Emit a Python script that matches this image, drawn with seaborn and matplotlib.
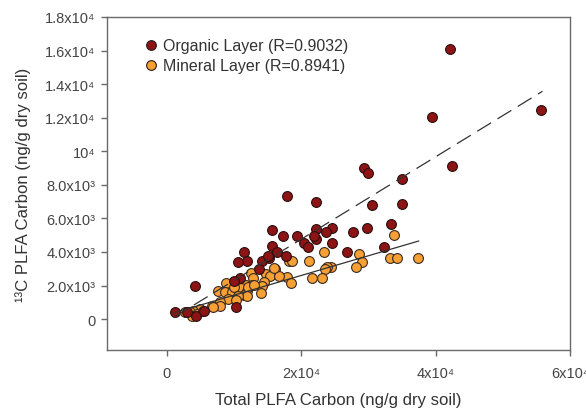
import numpy as np
import pandas as pd
import seaborn as sns
import matplotlib
matplotlib.use("Agg")
import matplotlib.pyplot as plt
from matplotlib.lines import Line2D

# ---------------- data ----------------
organic_x = [42200, 39400, 55700, 42500, 29330, 29920, 34950, 30510, 34950, 24590,
             27700, 29770, 33330, 24590, 26800, 32290, 17920, 22220, 15700, 17330,
             19400, 22220, 23700, 22220, 20440, 21030, 15700, 16440, 17770, 11550,
             12000, 14220, 15250, 13770, 10960, 10660, 4150, 10070, 10370, 1190,
             2960, 4300, 15100, 21920, 5600]
organic_y = [16080, 12050, 12460, 9140, 9020, 8720, 8370, 6770, 6830, 5400,
             5220, 5400, 5640, 4510, 3980, 4270, 7360, 7000, 5280, 4930,
             4930, 5340, 5220, 4750, 4510, 4270, 4330, 3980, 3740, 3980,
             3440, 3440, 3620, 2970, 2430, 3380, 1960, 2260, 710, 415,
             415, 180, 3740, 4930, 470]

mineral_x = [33770, 28590, 29030, 28140, 33180, 34210, 37330, 24440, 23400, 21180,
             18220, 18660, 23850, 23550, 21630, 23100, 17920, 18510, 16140, 14810,
             15400, 16740, 12590, 12890, 14510, 14220, 11850, 12740, 11110, 12000,
             14070, 11550, 8740, 7550, 8590, 9630, 10070, 12150, 13030, 12000,
             10660, 9040, 10370, 7850, 6670, 7850, 4890, 3850, 3410, 2670,
             4440, 5330, 3700, 6820, 16000]
mineral_y = [5040, 3860, 3380, 3090, 3620, 3620, 3620, 3090, 3980, 3440,
             3440, 3440, 3090, 2970, 2430, 2430, 2490, 2140, 2970, 2670,
             2550, 2550, 2730, 2430, 2200, 1960, 2020, 2020, 1840, 1660,
             1540, 1420, 2140, 1660, 1600, 1600, 1900, 1900, 2020, 1365,
             1365, 1190, 1130, 1010, 770, 770, 590, 470, 415, 415,
             300, 470, 180, 710, 3030]

layer_labels = ["Organic Layer (R=0.9032)", "Mineral Layer (R=0.8941)"]

# regression lines: slope, intercept, x range
organic_fit = (0.2455, -150.0, 1000, 55900)
mineral_fit = (0.1175, 250.0, 1000, 37500)

x_ticks = [0, 20000, 40000, 60000]
x_tick_labels = ["0", "2x10\u2074", "4x10\u2074", "6x10\u2074"]
y_ticks = [0, 2000, 4000, 6000, 8000, 10000, 12000, 14000, 16000, 18000]
y_tick_labels = ["0", "2.0x10\u00b3", "4.0x10\u00b3", "6.0x10\u00b3", "8.0x10\u00b3",
                 "10\u2074", "1.2x10\u2074", "1.4x10\u2074", "1.6x10\u2074", "1.8x10\u2074"]

# ---------------- plot ----------------
sns.set_theme(style="white")
plt.rcParams["font.family"] = ["Liberation Sans", "DejaVu Sans"]

df = pd.DataFrame({
    "x": organic_x + mineral_x,
    "y": organic_y + mineral_y,
    "layer": [layer_labels[0]] * len(organic_x) + [layer_labels[1]] * len(mineral_x),
})

colors = {layer_labels[0]: "#8c1414", layer_labels[1]: "#f7a033"}

fig = plt.figure(figsize=(5.86, 4.10), dpi=100)
ax = fig.add_axes([0.1826, 0.1439, 0.7901, 0.8122])

sns.scatterplot(data=df[df.layer == layer_labels[1]], x="x", y="y", color=colors[layer_labels[1]],
                s=50, edgecolor="#3a2a22", linewidth=0.8, ax=ax, legend=False, zorder=3)
sns.scatterplot(data=df[df.layer == layer_labels[0]], x="x", y="y", color=colors[layer_labels[0]],
                s=50, edgecolor="#2a1010", linewidth=0.8, ax=ax, legend=False, zorder=3)

for (m, b, x0, x1), ls in [(organic_fit, (0, (13, 6))), (mineral_fit, "-")]:
    xs = np.array([x0, x1])
    sns.lineplot(x=xs, y=m * xs + b, ax=ax, color="#333333", linewidth=0.9,
                 linestyle=ls, zorder=4)

ax.set_xlim(-8900, 60000)
ax.set_ylim(-1840, 18000)
ax.set_xticks(x_ticks)
ax.set_xticklabels(x_tick_labels)
ax.set_yticks(y_ticks)
ax.set_yticklabels(y_tick_labels)

for sp in ax.spines.values():
    sp.set_color("#6a6a6a")
    sp.set_linewidth(1.0)
ax.tick_params(axis="both", direction="out", length=4.5, width=1.0, color="#6a6a6a",
               labelsize=10.5, labelcolor="#444444", pad=4, left=True, bottom=True)
ax.tick_params(axis="x", pad=7)

ax.set_xlabel("Total PLFA Carbon (ng/g dry soil)", fontsize=12.1, color="#333333", labelpad=9)
ax.set_ylabel("\u00b9\u00b3C PLFA Carbon (ng/g dry soil)", fontsize=12.1, color="#333333", labelpad=10)

handles = [Line2D([0], [0], marker="o", linestyle="", markersize=7,
                  markerfacecolor=colors[l], markeredgecolor="#2a1a1a", markeredgewidth=0.8)
           for l in layer_labels]
leg = ax.legend(handles, layer_labels, loc="upper left", bbox_to_anchor=(0.065, 0.955),
                frameon=False, fontsize=11.5, handletextpad=0.25, labelspacing=0.3,
                borderaxespad=0, handlelength=1.0)
for t in leg.get_texts():
    t.set_color("#333333")

fig.savefig("out.png", dpi=100)
